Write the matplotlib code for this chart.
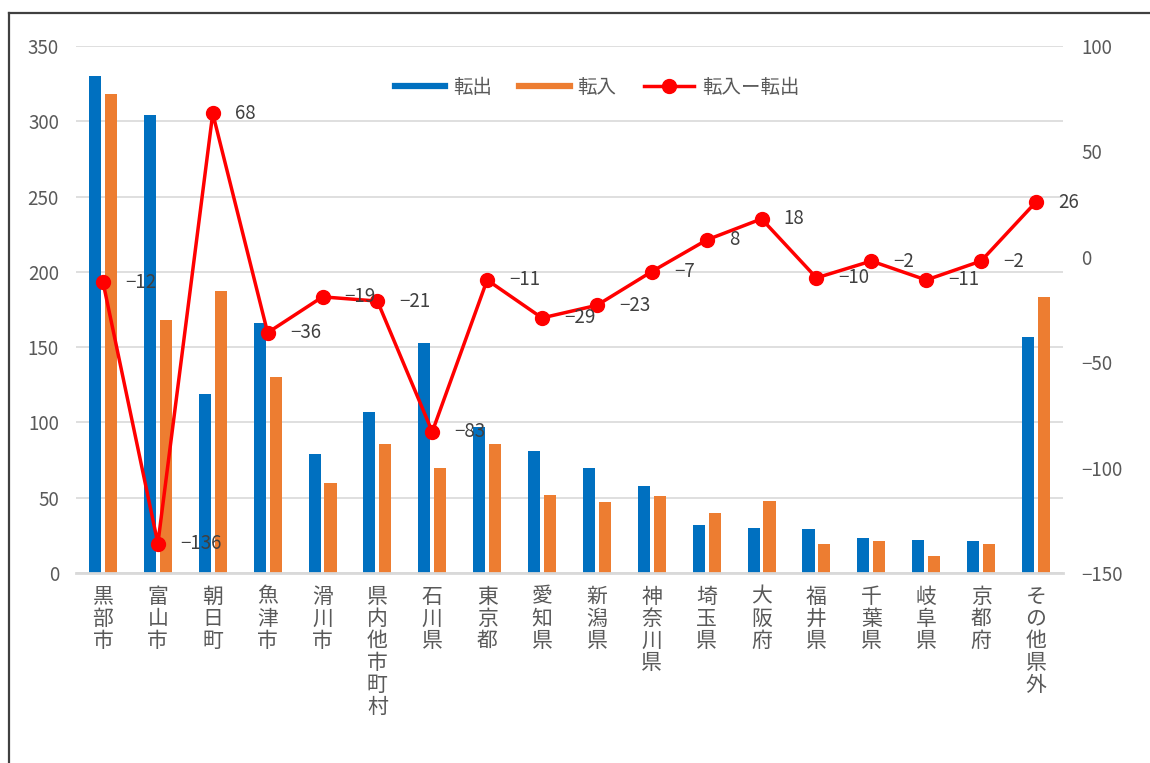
import numpy as np
import matplotlib.pyplot as plt
from matplotlib.lines import Line2D

plt.rcParams['font.family'] = ['Noto Sans CJK JP', 'DejaVu Sans']
plt.rcParams['axes.unicode_minus'] = True

# 転出・転入の件数（地域別）
areas = ['黒部市', '富山市', '朝日町', '魚津市', '滑川市', '県内他市町村', '石川県',
         '東京都', '愛知県', '新潟県', '神奈川県', '埼玉県', '大阪府', '福井県',
         '千葉県', '岐阜県', '京都府', 'その他県外']
moved_out = [330, 304, 119, 166, 79, 107, 153, 97, 81, 70, 58, 32, 30, 29, 23, 22, 21, 157]
moved_in = [318, 168, 187, 130, 60, 86, 70, 86, 52, 47, 51, 40, 48, 19, 21, 11, 19, 183]
net = [-12, -136, 68, -36, -19, -21, -83, -11, -29, -23, -7, 8, 18, -10, -2, -11, -2, 26]

blue = '#0070C0'
orange = '#ED7D31'
red = '#FF0000'
grid_c = '#D9D9D9'
txt_c = '#595959'

fig = plt.figure(figsize=(11.5, 7.63), dpi=100)
ax = fig.add_axes([0.0657, 0.249, 0.859, 0.6907])
ax2 = ax.twinx()

x = np.arange(len(areas))
w = 0.22
ax.bar(x - 0.145, moved_out, w, color=blue, zorder=2)
ax.bar(x + 0.145, moved_in, w, color=orange, zorder=2)

ax.set_xlim(-0.5, len(areas) - 0.5)
ax.set_ylim(0, 350)
ax.set_yticks(range(0, 351, 50))
ax.grid(axis='y', color=grid_c, linewidth=1.2, zorder=0)
ax.set_axisbelow(True)
for s in ['top', 'left', 'right']:
    ax.spines[s].set_visible(False)
ax.spines['bottom'].set_color(grid_c)
ax.spines['bottom'].set_linewidth(2)
ax.tick_params(axis='y', length=0, pad=12, labelsize=13.5, labelcolor=txt_c)
ax.tick_params(axis='x', length=0, pad=9, labelsize=15, labelcolor=txt_c)
ax.set_xticks(x)
ax.set_xticklabels(['\n'.join(a) for a in areas], va='top', linespacing=1.0)

# 転入超過の折れ線（右軸）
ax2.plot(x, net, color=red, linewidth=2.5, marker='o', markersize=10, zorder=3)
for xi, v in zip(x, net):
    ax2.annotate(f'{v}'.replace('-', '\u2212'), (xi, v), xytext=(16, 0),
                 textcoords='offset points', ha='left', va='center',
                 fontsize=13.5, color='#404040')
ax2.set_ylim(-150, 100)
ax2.set_yticks(range(-150, 101, 50))
for s in ax2.spines.values():
    s.set_visible(False)
ax2.tick_params(axis='y', length=0, pad=13, labelsize=13.5, labelcolor=txt_c)

handles = [Line2D([], [], color=blue, linewidth=4.5),
           Line2D([], [], color=orange, linewidth=4.5),
           Line2D([], [], color=red, linewidth=2.5, marker='o', markersize=10)]
ax2.legend(handles, ['転出', '転入', '転入ー転出'], loc='upper center',
           bbox_to_anchor=(0.528, 0.975), ncol=3, frameon=False, fontsize=14,
           handlelength=2.6, columnspacing=1.4, handletextpad=0.4,
           labelcolor=txt_c)

# 外枠（左と上）
fig.add_artist(Line2D([0.008, 0.008], [0, 0.983], color='#404040', linewidth=1.6))
fig.add_artist(Line2D([0.008, 1.0], [0.983, 0.983], color='#404040', linewidth=1.6))

fig.savefig('out.png', dpi=100)
